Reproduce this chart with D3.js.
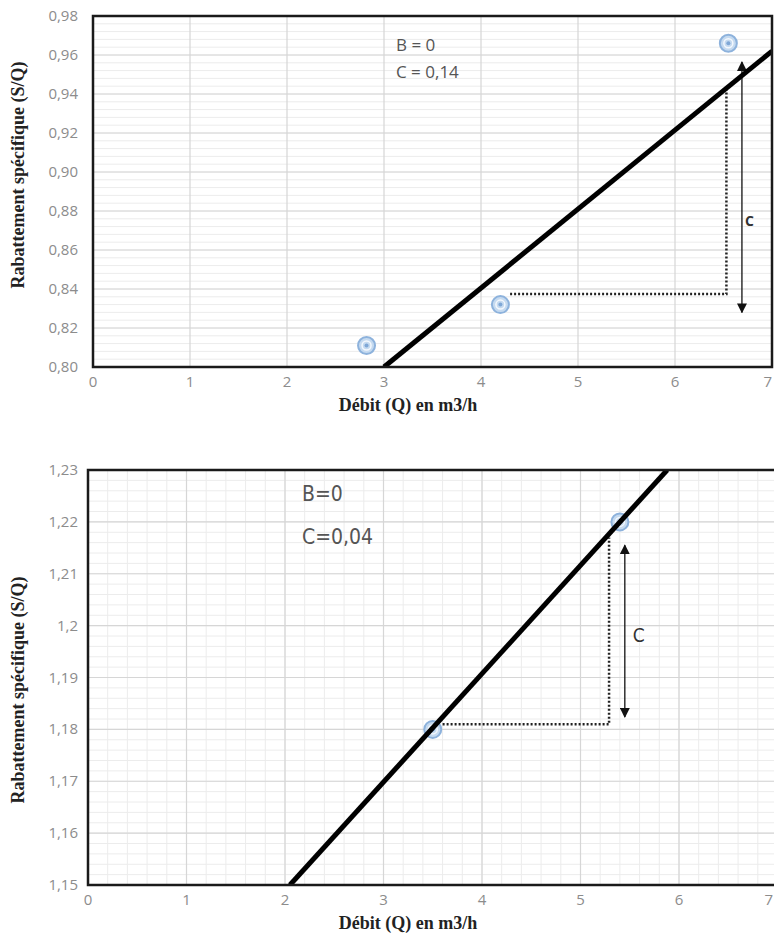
<!DOCTYPE html>
<html>
<head>
<meta charset="utf-8">
<script src="https://cdn.jsdelivr.net/npm/d3@7"></script>
<style>
  body { margin: 0; background: #fff; }
  svg { display: block; }
  .tick-label { font-family: "Open Sans", "Noto Sans", sans-serif; font-size: 15px; fill: #8c8c8c; }
  .axis-title { font-family: "Liberation Serif", "DejaVu Serif", serif; font-weight: bold; font-size: 18px; fill: #222; }
</style>
</head>
<body>
<svg width="774" height="941"></svg>
<script>
// ---- data, top chart ----
const qTicks = [0, 1, 2, 3, 4, 5, 6, 7]
const topYTicks = [0.80, 0.82, 0.84, 0.86, 0.88, 0.90, 0.92, 0.94, 0.96, 0.98]
const topQ = [2.82, 4.2, 6.55]
const topS = [0.811, 0.832, 0.966]
const topLineQ = [3, 7]
const topLineS = [0.80, 0.962]
const topNotes = ["B = 0", "C = 0,14"]

// ---- data, bottom chart ----
const botYTicks = [1.15, 1.16, 1.17, 1.18, 1.19, 1.20, 1.21, 1.22, 1.23]
const botQ = [3.5, 5.4]
const botS = [1.18, 1.22]
const botLineQ = [2.05, 5.88]
const botLineS = [1.15, 1.23]
const botNotes = ["B=0", "C=0,04"]

const svg = d3.select("svg")

const defs = svg.append("defs")
defs.append("marker")
  .attr("id", "head")
  .attr("viewBox", "0 0 10 10")
  .attr("refX", 9)
  .attr("refY", 5)
  .attr("markerWidth", 10)
  .attr("markerHeight", 10)
  .attr("markerUnits", "userSpaceOnUse")
  .attr("orient", "auto-start-reverse")
  .append("path")
  .attr("d", "M0,0 L10,5 L0,10 Z")
  .attr("fill", "#111")

function drawPanel(cfg) {
  const x = d3.scaleLinear().domain([0, 7]).range([cfg.left, cfg.right])
  const y = d3.scaleLinear().domain(cfg.yDomain).range([cfg.bottom, cfg.top])
  const g = svg.append("g")

  g.append("clipPath").attr("id", cfg.id)
    .append("rect")
    .attr("x", cfg.left).attr("y", cfg.top)
    .attr("width", cfg.right - cfg.left).attr("height", cfg.bottom - cfg.top)

  const plot = g.append("g").attr("clip-path", `url(#${cfg.id})`)

  // minor grid
  const yMinor = d3.range(cfg.yDomain[0], cfg.yDomain[1] + 1e-9, cfg.yMinorStep)
  plot.selectAll("line.ymin").data(yMinor).enter().append("line")
    .attr("x1", cfg.left).attr("x2", cfg.right)
    .attr("y1", d => y(d)).attr("y2", d => y(d))
    .attr("stroke", "#ececec").attr("stroke-width", 1)
  if (cfg.xMinorStep) {
    const xMinor = d3.range(0, 7 + 1e-9, cfg.xMinorStep)
    plot.selectAll("line.xmin").data(xMinor).enter().append("line")
      .attr("y1", cfg.top).attr("y2", cfg.bottom)
      .attr("x1", d => x(d)).attr("x2", d => x(d))
      .attr("stroke", "#ececec").attr("stroke-width", 1)
  }

  // major grid
  plot.selectAll("line.ymaj").data(cfg.yTicks).enter().append("line")
    .attr("x1", cfg.left).attr("x2", cfg.right)
    .attr("y1", d => y(d)).attr("y2", d => y(d))
    .attr("stroke", "#d6d6d6").attr("stroke-width", 1.2)
  plot.selectAll("line.xmaj").data(qTicks).enter().append("line")
    .attr("y1", cfg.top).attr("y2", cfg.bottom)
    .attr("x1", d => x(d)).attr("x2", d => x(d))
    .attr("stroke", "#d6d6d6").attr("stroke-width", 1.2)

  // annotation text
  cfg.notes.forEach((t, i) => {
    g.append("text")
      .attr("x", cfg.noteX).attr("y", cfg.noteY + i * cfg.noteGap)
      .attr("font-family", cfg.noteFont)
      .attr("font-size", cfg.noteSize)
      .attr("fill", "#555")
      .text(t)
  })

  // dotted construction lines
  const dot = cfg.dotted
  plot.append("path")
    .attr("d", `M${x(dot.q0)},${y(dot.s0)} L${x(dot.q1)},${y(dot.s0)} L${x(dot.q1)},${y(dot.s1)}`)
    .attr("fill", "none").attr("stroke", "#222")
    .attr("stroke-width", 2.5).attr("stroke-dasharray", "2,2")

  // double arrow
  plot.append("line")
    .attr("x1", x(cfg.arrow.q)).attr("x2", x(cfg.arrow.q))
    .attr("y1", y(cfg.arrow.s0)).attr("y2", y(cfg.arrow.s1))
    .attr("stroke", "#111").attr("stroke-width", 1.3)
    .attr("marker-end", "url(#head)")
    .attr("marker-start", cfg.arrow.both ? "url(#head)" : null)
  g.append("text")
    .attr("x", x(cfg.arrow.q) + cfg.arrow.dx).attr("y", cfg.arrow.labelY)
    .attr("font-family", cfg.noteFont)
    .attr("font-size", cfg.arrow.size)
    .attr("font-weight", cfg.arrow.bold ? "bold" : "normal")
    .attr("fill", "#333")
    .text("C")

  // points
  const pts = plot.selectAll("g.pt").data(cfg.q.map((q, i) => [q, cfg.s[i]])).enter().append("g")
    .attr("transform", d => `translate(${x(d[0])},${y(d[1])})`)
  pts.append("circle").attr("r", 8.5).attr("fill", "#c5daf0").attr("stroke", "#8db2dc").attr("stroke-width", 2)
  pts.append("circle").attr("r", 4.5).attr("fill", "none").attr("stroke", "#f4f8fd").attr("stroke-width", 1.5)
  pts.append("circle").attr("r", 2).attr("fill", "#7fa7d6")

  // regression line
  plot.append("path")
    .datum(cfg.lineQ.map((q, i) => [q, cfg.lineS[i]]))
    .attr("d", d3.line().x(d => x(d[0])).y(d => y(d[1])))
    .attr("stroke", "#000").attr("stroke-width", 5).attr("fill", "none")

  // frame
  g.append("rect")
    .attr("x", cfg.left).attr("y", cfg.top)
    .attr("width", cfg.right - cfg.left).attr("height", cfg.bottom - cfg.top)
    .attr("fill", "none").attr("stroke", "#1a1a1a").attr("stroke-width", 2.5)

  // tick labels
  g.selectAll("text.yt").data(cfg.yTicks).enter().append("text")
    .attr("class", "tick-label")
    .attr("x", 78).attr("y", d => y(d) + 5)
    .attr("text-anchor", "end")
    .text(cfg.yFormat)
  g.selectAll("text.xt").data(qTicks).enter().append("text")
    .attr("class", "tick-label")
    .attr("x", d => Math.min(x(d), 773))
    .attr("y", cfg.bottom + 20)
    .attr("text-anchor", d => x(d) > 768 ? "end" : "middle")
    .text(d => d)

  // axis titles
  g.append("text")
    .attr("class", "axis-title")
    .attr("transform", `translate(24,${cfg.yTitleY}) rotate(-90)`)
    .attr("text-anchor", "middle")
    .text("Rabattement spécifique (S/Q)")
  g.append("text")
    .attr("class", "axis-title")
    .attr("x", 408).attr("y", cfg.bottom + 44)
    .attr("text-anchor", "middle")
    .text("Débit (Q) en m3/h")
}

drawPanel({
  id: "clipTop",
  left: 93, right: 772, top: 16, bottom: 367,
  yDomain: [0.80, 0.98], yTicks: topYTicks, yMinorStep: 0.004, xMinorStep: null,
  yFormat: d => d.toFixed(2).replace(".", ","),
  q: topQ, s: topS, lineQ: topLineQ, lineS: topLineS,
  notes: topNotes, noteX: 396, noteY: 51, noteGap: 27,
  noteFont: "'Open Sans', 'Noto Sans', sans-serif", noteSize: 17,
  dotted: { q0: 4.3, q1: 6.53, s0: 0.8374, s1: 0.9433 },
  arrow: { q: 6.69, s0: 0.9564, s1: 0.828, both: true, dx: 3, labelY: 226, size: 14, bold: true },
  yTitleY: 175
})

drawPanel({
  id: "clipBot",
  left: 88, right: 777.5, top: 470, bottom: 885,
  yDomain: [1.15, 1.23], yTicks: botYTicks, yMinorStep: 0.002, xMinorStep: 0.2,
  yFormat: d => String(Math.round(d * 100) / 100).replace(".", ","),
  q: botQ, s: botS, lineQ: botLineQ, lineS: botLineS,
  notes: botNotes, noteX: 302, noteY: 501, noteGap: 43,
  noteFont: "'DejaVu Sans Condensed', 'Liberation Sans', sans-serif", noteSize: 21,
  dotted: { q0: 3.6, q1: 5.29, s0: 1.181, s1: 1.217 },
  arrow: { q: 5.45, s0: 1.2155, s1: 1.1824, both: true, dx: 8, labelY: 642, size: 19, bold: false },
  yTitleY: 690
})
</script>
</body>
</html>
